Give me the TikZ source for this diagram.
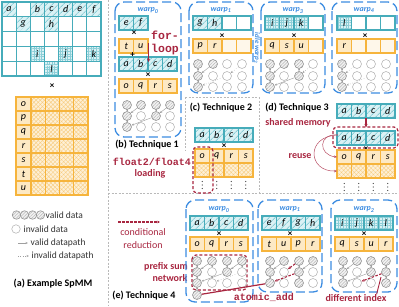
\documentclass[tikz,border=0pt]{standalone}
\usepackage{fontspec}
\setmainfont{Carlito}
\newfontfamily\monof{Liberation Mono}
\usetikzlibrary{patterns.meta,arrows.meta}
\definecolor{tealD}{RGB}{70,172,186}
\definecolor{tealL}{RGB}{218,241,244}
\definecolor{tealP}{RGB}{140,206,215}
\definecolor{orangeD}{RGB}{246,180,60}
\definecolor{orangeL}{RGB}{253,233,196}
\definecolor{orangeP}{RGB}{247,205,130}
\definecolor{blueW}{RGB}{60,140,225}
\definecolor{redD}{RGB}{168,38,64}
\definecolor{grayC}{RGB}{150,150,150}
\newcommand\circs[3]{\foreach \c/\r/\x/\y in {#3} \node[#2] (#1\c\r) at (\x,\y) {};}
\newcommand\mydots[2]{\foreach \dy in {-3.5,0,3.5} \fill[black!75] (#1,#2+\dy) circle (0.55pt);}
\begin{document}
\begin{tikzpicture}[x=1pt,y=-1pt,
  cellbase/.style={minimum width=14.5pt, minimum height=14pt, inner sep=0pt, outer sep=0pt, font=\fontsize{10}{10}\selectfont\itshape},
  tc/.style={cellbase, draw=tealD, line width=1.1pt, fill=white},
  tl/.style={cellbase, draw=tealD, line width=1.1pt, preaction={fill=tealL}, pattern={Lines[angle=45,distance=4pt,line width=0.9pt]}, pattern color=tealP},
  tk/.style={cellbase, draw=tealD, line width=1.1pt, preaction={fill=tealL}, pattern={Hatch[angle=0,distance=2.6pt,line width=0.4pt]}, pattern color=tealP},
  ol/.style={cellbase, draw=orangeD, line width=1.1pt, fill=orangeL},
  oe/.style={cellbase, draw=orangeD, line width=1.1pt, fill=orangeL!35},
  ok/.style={cellbase, draw=orangeD, line width=1.1pt, preaction={fill=orangeL!70}, pattern={Hatch[angle=45,distance=3pt,line width=0.45pt]}, pattern color=orangeP},
  sw/.style={minimum width=14.14pt, minimum height=14.8pt},
  tim/.style={inner sep=0pt, font=\fontsize{9}{9}\selectfont\bfseries},
  wl/.style={inner sep=0pt, text=blueW, font=\fontsize{8}{8}\selectfont\bfseries\itshape},
  ttl/.style={inner sep=0pt, font=\fontsize{10}{10}\selectfont\bfseries},
  legt/.style={inner sep=0pt, text=black!80, font=\fontsize{9.5}{9.5}\selectfont},
  monot/.style={inner sep=0pt, text=redD, font=\fontsize{10}{10}\monof\bfseries},
  redb/.style={inner sep=0pt, text=redD, font=\fontsize{10}{10}\selectfont\bfseries},
  redn/.style={inner sep=0pt, text=redD, font=\fontsize{10}{10}\selectfont},
  vc/.style={circle, minimum size=9pt, inner sep=0pt, draw=grayC, line width=0.6pt, preaction={fill=gray!10}, pattern={Lines[angle=45,distance=2.2pt,line width=0.5pt]}, pattern color=gray!55},
  ic/.style={circle, minimum size=9pt, inner sep=0pt, draw=gray!55, line width=0.6pt, fill=white},
  dp/.style={-{Stealth[length=2.5pt,width=2pt]}, gray!75, line width=0.45pt},
  ip/.style={dp, dotted},
  sep/.style={gray!55, line width=0.6pt, dash pattern=on 2pt off 1.5pt},
  warp/.style={blueW, line width=1.3pt, dash pattern=on 9pt off 4pt, rounded corners=9pt},
  reddash/.style={redD, line width=1.2pt, dash pattern=on 3pt off 2pt, rounded corners=4pt},
  redarr/.style={-{Stealth[length=3.5pt,width=3pt]}, redD, line width=1.1pt},
  redthin/.style={-{Stealth[length=3pt,width=2.5pt]}, redD!80, line width=0.5pt},
  reddp/.style={-{Stealth[length=3pt,width=2.5pt]}, redD, line width=1.1pt, dash pattern=on 2.5pt off 1.5pt}
]
\useasboundingbox (0,0) rectangle (399,306);
% separators
\draw[sep] (108,0) -- (108,306);
\draw[sep] (108,193) -- (399,193);
\draw[sep] (185,97) -- (260,97);
\draw[sep] (185,97) -- (185,150);
\draw[sep] (259,97) -- (259,193);

% ===== (a) =====
\foreach \c/\x in {1/9.07,2/23.21,3/37.35,4/51.49,5/65.63,6/79.77,7/93.91}
  \foreach \r/\y in {1/9.4,2/24.2,3/39.0,4/53.8,5/68.6}
    \node[tc,sw] (s\c\r) at (\x,\y) {};
\foreach \n/\x/\y in {a/9.07/9.4,b/37.35/9.4,c/51.49/9.4,d/65.63/9.4,e/79.77/9.4,f/93.91/9.4,g/23.21/24.2,h/51.49/24.2}
  \node[tl,sw] (S\n) at (\x,\y) {\n};
\foreach \n/\x/\y in {i/37.35/53.8,j/65.63/53.8,k/93.91/53.8,l/51.49/68.6}
  \node[tk,sw] (S\n) at (\x,\y) {\n};
\node[tim] (ax) at (52,86) {×};
\foreach \n/\y in {o/104,p/118,q/132,r/146,s/160,t/174,u/188}{
  \node[ol,minimum width=15pt] (D\n) at (23.5,\y) {\n};
  \foreach \x [count=\j] in {38.1,52.4,66.6,80.9}
    \node[ok,minimum width=14.25pt] (D\n\j) at (\x,\y) {};
}
\foreach \x [count=\i] in {16.5,24.5,32.5,40.5}
  \node[vc,minimum size=8.5pt] (L\i) at (\x,215) {};
\node[legt,anchor=west] (Lv) at (45.5,215) {valid data};
\node[ic,minimum size=8.5pt] (Li) at (16,229) {};
\node[legt,anchor=west] (Lit) at (23.5,229) {invalid data};
\coordinate (A1) at (18,243); \coordinate (A2) at (28,243);
\draw[dp] (A1) -- (A2);
\node[legt,anchor=west] (Lvp) at (30.5,243) {valid datapath};
\coordinate (B1) at (18,256); \coordinate (B2) at (29,256);
\draw[ip] (B1) -- (B2);
\node[legt,anchor=west] (Lip) at (31.5,256) {invalid datapath};
\node[ttl] (ta) at (53,284) {(a) Example SpMM};

% ===== (b) =====
\draw[warp] (115,2) rectangle (181,137);
\node[wl] (wb0) at (148,10.5) {warp\textsubscript{0}};
\foreach \n/\x in {e/126.25,f/140.75} \node[tl] (b\n) at (\x,23) {\n};
\node[tim] (bx1) at (134,33) {×};
\foreach \n/\x in {t/126.25,u/140.75} \node[ol] (b\n) at (\x,46) {\n};
\node[tim] (bplus) at (132.5,55.3) {+};
\foreach \n/\x in {a/126.25,b/140.75,c/155.25,d/169.75} \node[tl] (b\n) at (\x,64) {\n};
\node[tim] (bx2) at (148,75) {×};
\foreach \n/\x in {o/126.25,q/140.75,r/155.25,s/169.75} \node[ol] (b\n) at (\x,86) {\n};
\node[monot,anchor=west,font=\fontsize{11.5}{11.5}\monof\bfseries] (forl) at (151,35) {for-};
\node[monot,anchor=west,font=\fontsize{11.5}{11.5}\monof\bfseries] (loopl) at (151,50) {loop};
\coordinate (fa1) at (148.5,43);
\coordinate (fa2) at (148.5,62);
\draw[redarr] (fa1) -- (fa2);
\circs{bc}{vc}{1/1/127/105,2/1/141/105,3/1/156/105,4/1/170/105,1/2/127/116,3/2/156/116,1/3/127/127}
\circs{bc}{ic}{2/2/141/116,4/2/170/116,2/3/141/127,3/3/156/127,4/3/170/127}
\draw[dp] (bc11) -- (bc12);
\draw[dp] (bc21) -- (bc12);
\draw[dp] (bc31) -- (bc32);
\draw[dp] (bc41) -- (bc32);
\draw[dp] (bc12) -- (bc13);
\draw[dp] (bc32) -- (bc13);
\node[ttl] (tb) at (147,145) {(b) Technique 1};

% ===== (c) top warps =====
\draw[warp] (189,2) rectangle (253,93);
\node[wl] (wc1) at (221,10.5) {warp\textsubscript{1}};
\node[tl] (cg) at (200.25,23) {g};
\node[tl] (ch) at (214.75,23) {h};
\node[tc] (cz3) at (229.25,23) {};
\node[tc] (cz4) at (243.75,23) {};
\node[tim] (cx1) at (222,36) {×};
\node[ol] (cp) at (200.25,46) {p};
\node[ol] (cr) at (214.75,46) {r};
\node[oe] (co3) at (229.25,46) {};
\node[oe] (co4) at (243.75,46) {};
\circs{ca}{vc}{1/1/198/64,2/1/213/64,1/2/198/76,1/3/198/87}
\circs{ca}{ic}{3/1/227/64,4/1/242/64,2/2/213/76,3/2/227/76,4/2/242/76,2/3/213/87,3/3/227/87,4/3/242/87}
\draw[dp] (ca11) -- (ca12);
\draw[dp] (ca21) -- (ca12);
\draw[dp] (ca12) -- (ca13);
\draw[ip] (ca41) -- (ca32);
\draw[ip] (ca32) -- (ca13);

\node[wl,rotate=-90,font=\fontsize{7}{7}\selectfont\bfseries\itshape] (idle) at (257,48) {idle warp\textsubscript{2}};

\draw[warp] (261,2) rectangle (325,93);
\node[wl] (wc3) at (293,10.5) {warp\textsubscript{3}};
\node[tk] (ci) at (272.25,23) {i};
\node[tk] (cj) at (286.75,23) {j};
\node[tk] (ck) at (301.25,23) {k};
\node[tc] (cy4) at (315.75,23) {};
\node[tim] (cx3) at (294,36) {×};
\node[ol] (cq) at (272.25,46) {q};
\node[ol] (cs) at (286.75,46) {s};
\node[ol] (cu) at (301.25,46) {u};
\node[oe] (cw4) at (315.75,46) {};
\circs{cb}{vc}{1/1/270/64,2/1/284/64,3/1/299/64,1/2/270/76,3/2/299/76,1/3/270/87}
\circs{cb}{ic}{4/1/313/64,2/2/284/76,4/2/313/76,2/3/284/87,3/3/299/87,4/3/313/87}
\draw[dp] (cb11) -- (cb12);
\draw[dp] (cb21) -- (cb12);
\draw[dp] (cb31) -- (cb32);
\draw[dp] (cb12) -- (cb13);
\draw[dp] (cb32) -- (cb13);
\draw[ip] (cb41) -- (cb32);

\draw[warp] (332,2) rectangle (397,93);
\node[wl] (wc4) at (364,10.5) {warp\textsubscript{4}};
\node[tk] (cl) at (344.25,23) {l};
\node[tc] (cv2) at (358.75,23) {};
\node[tc] (cv3) at (373.25,23) {};
\node[tc] (cv4) at (387.75,23) {};
\node[tim] (cx4) at (365,36) {×};
\node[ol] (cr4) at (344.25,46) {r};
\node[oe] (cn2) at (358.75,46) {};
\node[oe] (cn3) at (373.25,46) {};
\node[oe] (cn4) at (387.75,46) {};
\circs{cc}{vc}{1/1/342/64,1/2/342/76,1/3/342/87}
\circs{cc}{ic}{2/1/357/64,3/1/371/64,4/1/386/64,2/2/357/76,3/2/371/76,4/2/386/76,2/3/357/87,3/3/371/87,4/3/386/87}
\draw[dp] (cc11) -- (cc12);
\draw[dp] (cc12) -- (cc13);
\draw[ip] (cc21) -- (cc12);
\draw[ip] (cc32) -- (cc13);

% ===== (c) technique 2 =====
\node[ttl] (tcc) at (221,108) {(c) Technique 2};
\foreach \n/\x in {a/202.25,b/216.75,c/231.25,d/245.75} \node[tl] (k\n) at (\x,135) {\n};
\node[tim] (kx) at (224,146) {×};
\foreach \n/\x in {o/202.25,q/216.75,r/231.25,s/245.75} \node[ol] (k\n) at (\x,156) {\n};
\foreach \x [count=\j] in {202.25,216.75,231.25,245.75} {
  \node[ok] (kp\j) at (\x,170) {};
  \mydots{\x}{185}
}
\draw[reddash] (193,147) rectangle (213,193);
\node[monot] (fl) at (152,162) {float2/float4};
\node[redb] (ld) at (150,174) {loading};

% ===== (d) =====
\node[ttl] (tdd) at (297,108) {(d) Technique 3};
\foreach \n/\x in {a/344.25,b/358.75,c/373.25,d/387.75} \node[tl] (m\n) at (\x,111) {\n};
\foreach \n/\x in {a/344.25,b/358.75,c/373.25,d/387.75} \node[tl] (n\n) at (\x,138) {\n};
\draw[reddash] (333,127) rectangle (398,148);
\coordinate (sm) at (366,127.5);
\draw[redarr] (mb.south east) -- (sm);
\node[redb] (shm) at (298,123) {shared memory};
\node[tim] (nx) at (366,149) {×};
\foreach \n/\x in {o/344.25,q/358.75,r/373.25,s/387.75} \node[ol] (n\n) at (\x,157) {\n};
\foreach \x [count=\j] in {344.25,358.75,373.25,387.75} {
  \node[ok] (np\j) at (\x,171) {};
  \mydots{\x}{187}
}
\node[redb] (reuse) at (300,156) {reuse};
\coordinate (rs) at (338,135);
\draw[redthin] (rs) .. controls (318,133) and (318,155) .. (no.west);
\draw[redthin] (rs) .. controls (305,136) and (308,172) .. (np1.west);

% ===== (e) =====
\coordinate (cr1) at (118,222); \coordinate (cr2) at (160,222);
\draw[reddp] (cr1) -- (cr2);
\node[redn] (cond) at (143,232) {conditional};
\node[redn] (redu) at (143,245) {reduction};
\node[redb] (pfx) at (166,267) {prefix sum};
\node[redb] (netw) at (170,278.5) {network};
\node[ttl] (te) at (144,296) {(e) Technique 4};

\draw[warp] (186,200) rectangle (253,302);
\node[wl] (we0) at (219,209.5) {warp\textsubscript{0}};
\foreach \n/\x in {a/197.25,b/211.75,c/226.25,d/240.75} \node[tl] (p\n) at (\x,223) {\n};
\node[tim] (px) at (219,234) {×};
\foreach \n/\x in {o/197.25,q/211.75,r/226.25,s/240.75} \node[ol] (p\n) at (\x,244) {\n};
\draw[reddash] (192,255) rectangle (247,290);
\circs{ea}{vc}{1/1/197/261,2/1/212/261,3/1/227/261,4/1/242/261,1/2/197/272,3/2/227/272,1/3/197/283,1/4/197/295}
\circs{ea}{ic}{2/2/212/272,4/2/242/272,2/3/212/283,3/3/227/283,4/3/242/283}
\draw[dp] (ea11) -- (ea12);
\draw[dp] (ea21) -- (ea12);
\draw[dp] (ea21) -- (ea22);
\draw[dp] (ea31) -- (ea32);
\draw[dp] (ea41) -- (ea32);
\draw[dp] (ea41) -- (ea42);
\draw[dp] (ea12) -- (ea13);
\draw[dp] (ea32) -- (ea13);
\draw[ip] (ea22) -- (ea23);
\draw[ip] (ea42) -- (ea23);
\draw[dp] (ea13) -- (ea14);

\draw[warp] (258,200) rectangle (322,292);
\node[wl] (we1) at (290,209.5) {warp\textsubscript{1}};
\foreach \n/\x in {e/269.25,f/283.75,g/298.25,h/312.75} \node[tl] (q\n) at (\x,223) {\n};
\node[tim] (qx) at (290,234) {×};
\foreach \n/\x in {t/269.25,u/283.75,p/298.25,r/312.75} \node[ol] (q\n) at (\x,244) {\n};
\circs{eb}{vc}{1/1/270/261,2/1/284/261,3/1/299/261,4/1/313/261,1/2/270/272,3/2/299/272,1/3/270/283,3/3/299/283}
\circs{eb}{ic}{2/2/284/272,4/2/313/272,2/3/284/283,4/3/313/283}
\draw[dp] (eb11) -- (eb12);
\draw[dp] (eb21) -- (eb12);
\draw[dp] (eb31) -- (eb32);
\draw[dp] (eb41) -- (eb32);
\draw[dp] (eb12) -- (eb13);
\draw[dp] (eb32) -- (eb33);
\draw[reddp] (eb31) -- (eb22);
\draw[reddp] (eb32) -- (eb13);

\draw[warp] (331,200) rectangle (397,292);
\node[wl] (we2) at (364,209.5) {warp\textsubscript{2}};
\foreach \n/\x in {i/342.25,j/356.75,k/371.25,l/385.75} \node[tk] (r\n) at (\x,223) {\n};
\node[tim] (rx) at (364,234) {×};
\foreach \n/\x in {q/342.25,s/356.75,u/371.25,r/385.75} \node[ol] (r\n) at (\x,244) {\n};
\circs{ec}{vc}{1/1/343/261,2/1/357/261,3/1/371/261,4/1/386/261,1/2/343/272,3/2/371/272,4/2/386/272,1/3/343/283,4/3/386/283}
\circs{ec}{ic}{2/2/357/272,2/3/357/283,3/3/371/283}
\draw[dp] (ec11) -- (ec12);
\draw[dp] (ec21) -- (ec12);
\draw[dp] (ec31) -- (ec32);
\draw[dp] (ec41) -- (ec42);
\draw[dp] (ec12) -- (ec13);
\draw[dp] (ec32) -- (ec13);
\draw[dp] (ec42) -- (ec43);
\draw[reddp] (ec42) -- (ec23);

\node[monot] (atom) at (264,297.5) {atomic\_add};
\draw[redD, line width=1.2pt] (ea14) -- (eb13);
\node[redb] (diff) at (356,298) {different index};
\coordinate (dptr) at (381,277);
\draw[redD, line width=0.9pt] (diff.north east) ++(-10,0) coordinate (dbase) -- (dptr);
\end{tikzpicture}
\end{document}
